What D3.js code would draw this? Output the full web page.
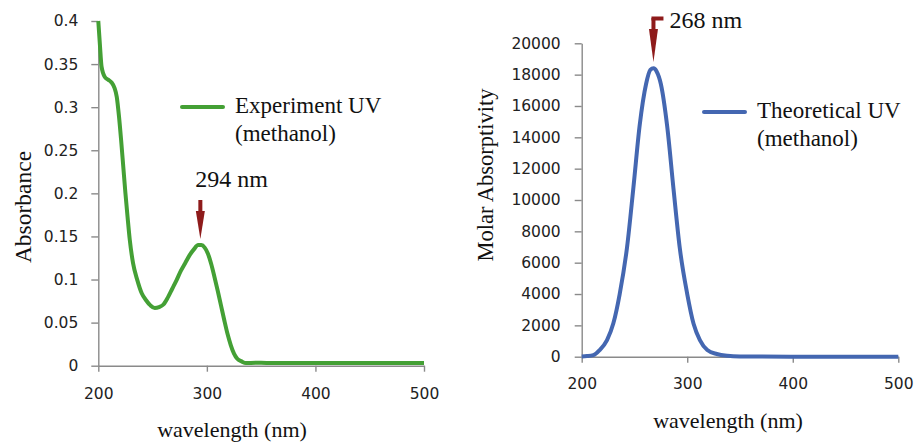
<!DOCTYPE html>
<html>
<head>
<meta charset="utf-8">
<script src="https://cdnjs.cloudflare.com/ajax/libs/d3/7.8.5/d3.min.js"></script>
<style>
  body { margin: 0; background: #fff; }
  .tick text { font-family: "DejaVu Sans", Verdana, sans-serif; font-size: 15.5px; fill: #222; }
  .tick line, .domain { stroke: #8a8a8a; stroke-width: 1.4px; }
</style>
</head>
<body>
<svg id="chart" width="919" height="443"></svg>
<script>
// experiment (left panel)
var expWavelength = [200, 201.5, 203, 206, 209, 212, 215, 217, 219, 221, 223, 225, 227, 229, 232, 236, 240, 244, 248, 252,
                     256, 260, 264, 268, 272, 276, 280, 284, 288, 292, 295, 298, 301, 304, 307, 310, 313, 316, 319, 322,
                     325, 328, 332, 336, 345, 350, 360, 400, 450, 500];
var expAbsorbance = [0.400, 0.372, 0.347, 0.335, 0.332, 0.329, 0.322, 0.312, 0.290, 0.262, 0.231, 0.200, 0.172, 0.146, 0.119, 0.099, 0.084, 0.076, 0.070, 0.067,
                     0.068, 0.071, 0.079, 0.089, 0.099, 0.110, 0.119, 0.128, 0.135, 0.140, 0.140, 0.137, 0.130, 0.118, 0.103, 0.087, 0.070, 0.053, 0.037, 0.024,
                     0.014, 0.008, 0.005, 0.003, 0.0035, 0.0035, 0.003, 0.003, 0.003, 0.003];
var expTicksY = [0, 0.05, 0.1, 0.15, 0.2, 0.25, 0.3, 0.35, 0.4];

// theoretical (right panel)
var theoWavelength = [200, 205, 211, 217, 224, 230, 236, 243, 249, 255, 261, 265, 268, 271, 275, 281, 287, 293, 300, 306,
                      312, 319, 328, 338, 350, 400, 500];
var theoMolar = [20, 40, 100, 425, 1060, 2130, 4000, 7000, 10800, 14800, 17400, 18300, 18400, 18200, 17400, 14700, 10700, 6900, 4000, 2100,
                 1060, 425, 170, 60, 20, 0, 0];
var theoTicksY = [0, 2000, 4000, 6000, 8000, 10000, 12000, 14000, 16000, 18000, 20000];

var ticksX = [200, 300, 400, 500];
var peaks = [294, 268];

var svg = d3.select("#chart");

function label(x, y, size, txt) {
    return svg.append("text")
        .attr("x", x).attr("y", y)
        .style("font-family", "Liberation Serif")
        .style("font-size", size + "px")
        .style("fill", "#111")
        .text(txt);
}

function panel(opt) {
    var x = d3.scaleLinear().domain([200, 500]).range([opt.left, opt.right]);
    var y = d3.scaleLinear().domain([0, opt.ymax]).range([opt.bottom, opt.top]);

    svg.append("g")
        .attr("transform", "translate(0," + opt.bottom + ")")
        .call(d3.axisBottom(x).tickValues(ticksX).tickSize(6).tickSizeOuter(0).tickPadding(opt.padX));

    svg.append("g")
        .attr("transform", "translate(" + opt.left + ",0)")
        .call(d3.axisLeft(y).tickValues(opt.ticksY).tickSize(7).tickSizeOuter(0).tickPadding(opt.padY)
            .tickFormat(function(d) { return String(d); }));

    var pts = opt.xs.map(function(d, i) { return [d, opt.ys[i]]; });
    var line = d3.line()
        .x(function(d) { return x(d[0]); })
        .y(function(d) { return y(d[1]); })
        .curve(d3.curveMonotoneX);

    svg.append("path")
        .datum(pts)
        .attr("d", line)
        .attr("fill", "none")
        .attr("stroke", opt.color)
        .attr("stroke-width", 4)
        .attr("stroke-linejoin", "round");

    // legend
    svg.append("line")
        .attr("x1", opt.legX).attr("x2", opt.legX + 41)
        .attr("y1", opt.legY).attr("y2", opt.legY)
        .attr("stroke", opt.color).attr("stroke-width", 4).attr("stroke-linecap", "round");
    label(opt.legX + 53, opt.legY + 6, 23, opt.name);
    label(opt.legX + 53, opt.legY + 34, 23, "(methanol)");

    // axis titles
    label(opt.xTitleX, opt.xTitleY, 22, "wavelength (nm)")
        .attr("text-anchor", "middle");
    label(0, 0, opt.yTitleSize, opt.yTitle)
        .attr("transform", "translate(" + opt.yTitleX + "," + opt.yTitleCy + ") rotate(-90)")
        .attr("text-anchor", "middle");

    return x;
}

var xl = panel({
    left: 98.3, right: 424, top: 21, bottom: 365.7, ymax: 0.4,
    ticksY: expTicksY, xs: expWavelength, ys: expAbsorbance,
    color: "#44a035", name: "Experiment UV", legX: 182, legY: 107,
    padX: 16, padY: 13, xTitleX: 232, xTitleY: 437,
    yTitle: "Absorbance", yTitleX: 31, yTitleCy: 207, yTitleSize: 23.5
});

var xr = panel({
    left: 581.7, right: 898.3, top: 43.3, bottom: 356.7, ymax: 20000,
    ticksY: theoTicksY, xs: theoWavelength, ys: theoMolar,
    color: "#4467b1", name: "Theoretical UV", legX: 704, legY: 112,
    padX: 15, padY: 14, xTitleX: 728, xTitleY: 428,
    yTitle: "Molar Absorptivity", yTitleX: 493, yTitleCy: 175, yTitleSize: 22.5
});

// peak markers
var arrowColor = "#8e1b1b";
function arrowDown(cx, y0, y1) {
    var g = svg.append("g").attr("fill", arrowColor);
    g.append("rect").attr("x", cx - 2).attr("y", y0).attr("width", 4).attr("height", 12);
    g.append("path").attr("d", "M" + (cx - 4.5) + "," + (y0 + 11) + "L" + (cx + 4.5) + "," + (y0 + 11) + "L" + cx + "," + y1 + "Z");
    return g;
}

var pl = xl(peaks[0]);
arrowDown(pl, 200, 239);
label(pl - 5, 187, 24, peaks[0] + " nm");

var pr = xr(peaks[1]);
var ga = arrowDown(pr, 18, 62);
ga.append("rect").attr("x", pr - 2).attr("y", 16.5).attr("width", 12).attr("height", 4);
label(pr + 16, 28, 24, peaks[1] + " nm");
</script>
</body>
</html>
